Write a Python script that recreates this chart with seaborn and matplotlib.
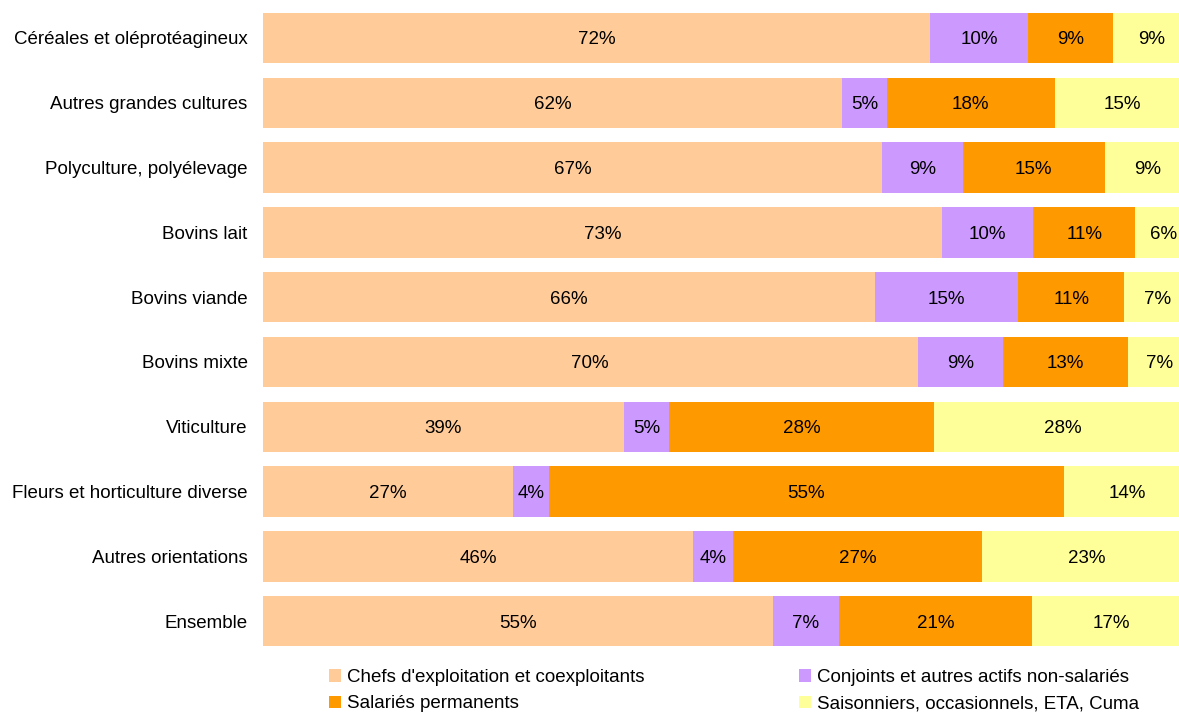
import numpy as np
import pandas as pd
import matplotlib
matplotlib.use("Agg")
import matplotlib.pyplot as plt
from matplotlib.patches import Patch
import seaborn as sns

categories = [
    "Céréales et oléprotéagineux",
    "Autres grandes cultures",
    "Polyculture, polyélevage",
    "Bovins lait",
    "Bovins viande",
    "Bovins mixte",
    "Viticulture",
    "Fleurs et horticulture diverse",
    "Autres orientations",
    "Ensemble",
]

series_names = [
    "Chefs d'exploitation et coexploitants",
    "Conjoints et autres actifs non-salariés",
    "Salariés permanents",
    "Saisonniers, occasionnels, ETA, Cuma",
]

chefs = [71.9, 62.5, 66.7, 73.2, 65.9, 70.6, 38.9, 26.9, 46.3, 55.0]
conjoints = [10.5, 4.8, 8.7, 9.8, 15.4, 9.2, 4.9, 3.9, 4.3, 7.1]
salaries = [9.2, 18.1, 15.3, 11.0, 11.4, 13.5, 28.5, 55.5, 26.8, 20.9]
saisonniers = [8.4, 14.7, 9.3, 6.0, 7.2, 6.8, 27.7, 13.7, 22.5, 17.1]

# étiquettes affichées (arrondies)
lab_chefs = [72, 62, 67, 73, 66, 70, 39, 27, 46, 55]
lab_conjoints = [10, 5, 9, 10, 15, 9, 5, 4, 4, 7]
lab_salaries = [9, 18, 15, 11, 11, 13, 28, 55, 27, 21]
lab_saisonniers = [9, 15, 9, 6, 7, 7, 28, 14, 23, 17]

colors = ["#FFCC99", "#CC99FF", "#FF9900", "#FFFF99"]
fs = 13.5

sns.set_style("white")
plt.rcParams["font.family"] = ["Liberation Sans", "DejaVu Sans"]
plt.rcParams["text.color"] = "black"
plt.rcParams["ytick.labelcolor"] = "black"

values = np.array([chefs, conjoints, salaries, saisonniers])
labels = np.array([lab_chefs, lab_conjoints, lab_salaries, lab_saisonniers])
cum = np.cumsum(values, axis=0)
left = cum - values

fig = plt.figure(figsize=(11.79, 7.13), dpi=100)
ax = fig.add_axes([263 / 1179, 59.4 / 713, 928 / 1179, 648 / 713])

# barres empilées : on trace les cumuls du plus grand au plus petit
for i in range(3, -1, -1):
    df = pd.DataFrame({"cat": categories, "val": cum[i] / cum[-1] * 100})
    sns.barplot(data=df, x="val", y="cat", orient="h", color=colors[i],
                width=0.78, saturation=1, linewidth=0, ax=ax)

for i in range(4):
    for j in range(len(categories)):
        xc = (left[i, j] + values[i, j] / 2) / cum[-1, j] * 100
        ax.text(xc, j, f"{labels[i, j]}%", ha="center", va="center_baseline",
                fontsize=fs, color="black")

ax.set_xlim(0, 100)
ax.set_ylim(9.5, -0.5)
ax.set_xlabel("")
ax.set_ylabel("")
ax.set_xticks([])
ax.tick_params(axis="y", length=0, pad=11, labelsize=fs, labelcolor="black")
sns.despine(ax=ax, left=True, bottom=True)

h = [Patch(facecolor=c, edgecolor="none") for c in colors]
leg_kw = dict(loc="upper left", frameon=False, fontsize=fs, handlelength=0.65,
              handleheight=0.65, handletextpad=0.3, labelspacing=0.5,
              borderaxespad=0, borderpad=0, labelcolor="black")
fig.legend([h[0], h[2]], [series_names[0], series_names[2]],
           bbox_to_anchor=(329 / 1179, 1 - 669 / 713), **leg_kw)
fig.legend([h[1], h[3]], [series_names[1], series_names[3]],
           bbox_to_anchor=(799 / 1179, 1 - 669 / 713), **leg_kw)

fig.savefig("out.png", dpi=100)
